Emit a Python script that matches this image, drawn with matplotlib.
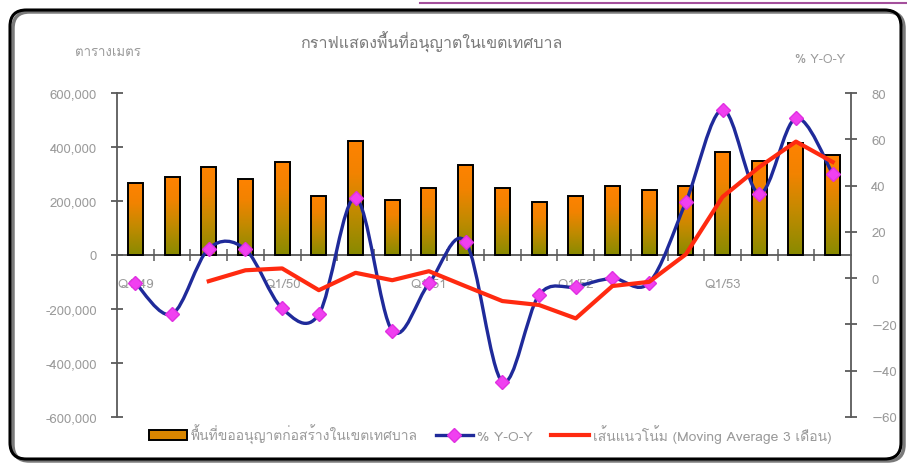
import numpy as np
import matplotlib
matplotlib.use("Agg")
import matplotlib.pyplot as plt
from matplotlib import font_manager
from matplotlib.ft2font import FT2Font
from matplotlib.path import Path
from matplotlib.patches import PathPatch, FancyBboxPatch, Patch
from matplotlib.lines import Line2D
from matplotlib.colors import LinearSegmentedColormap

# ---------------- data ----------------
categories = ["Q1/49", "Q2/49", "Q3/49", "Q4/49",
              "Q1/50", "Q2/50", "Q3/50", "Q4/50",
              "Q1/51", "Q2/51", "Q3/51", "Q4/51",
              "Q1/52", "Q2/52", "Q3/52", "Q4/52",
              "Q1/53", "Q2/53", "Q3/53", "Q4/53"]
area = [267000, 288000, 327000, 283000, 346000, 219000, 421000, 205000,
        249000, 335000, 249000, 196000, 220000, 255000, 241000, 254000,
        381000, 350000, 415000, 370000]
yoy = [-2.0, -15.5, 12.8, 12.4, -13.1, -15.6, 34.7, -22.7, -2.3, 15.7,
       -44.7, -7.3, -3.7, -0.1, -2.0, 32.9, 72.8, 36.5, 69.1, 45.1]
ma3 = [np.nan, np.nan, -1.3, 3.4, 4.2, -5.2, 2.3, -0.9, 3.0, -3.5,
       -9.9, -11.6, -17.4, -3.4, -1.6, 10.3, 35.1, 48.0, 59.0, 50.2]
left_ticks = [-600000, -400000, -200000, 0, 200000, 400000, 600000]
right_ticks = [-60, -40, -20, 0, 20, 40, 60, 80]

title = "กราฟแสดงพื้นที่อนุญาตในเขตเทศบาล"
left_unit = "ตารางเมตร"
right_unit = "% Y-O-Y"
lbl_bar = "พื้นที่ขออนุญาตก่อสร้างในเขตเทศบาล"
lbl_yoy = "% Y-O-Y"
lbl_ma = "เส้นแนวโน้ม (Moving Average 3 เดือน)"

# ---------------- font with Thai glyphs ----------------
thai_font = None
for fe in font_manager.fontManager.ttflist:
    try:
        cm = FT2Font(fe.fname).get_charmap()
    except Exception:
        continue
    if 0x0E01 in cm and 0x0E40 in cm:
        thai_font = fe.name
        if "Sans" in fe.name or "Loma" in fe.name:
            break
families = ([thai_font] if thai_font else []) + ["DejaVu Sans"]
plt.rcParams['font.family'] = families

TXT = "#9a9a9a"
AX = "#5a5a5a"
FS = 9.5

fig = plt.figure(figsize=(9.07, 4.64), dpi=100)
W, H = 907, 464
L, R, T, B = 117, 851, 94, 418
ax = fig.add_axes([L / W, 1 - B / H, (R - L) / W, (B - T) / H])
ax2 = ax.twinx()

x = np.arange(len(categories))

# bars with gradient
bars = ax.bar(x, area, width=0.41, facecolor="none", edgecolor="black",
              linewidth=1.4, zorder=3)
cmap = LinearSegmentedColormap.from_list(
    "og", [(0.0, "#888a00"), (0.4, "#c48a00"), (0.72, "#f28300"), (1.0, "#ff8200")])
grad = np.linspace(0, 1, 256).reshape(-1, 1)
for rect in bars:
    x0, w, h = rect.get_x(), rect.get_width(), rect.get_height()
    im = ax.imshow(grad, extent=[x0, x0 + w, 0, h], aspect="auto",
                   origin="lower", cmap=cmap, zorder=2, interpolation="bilinear")
    im.set_clip_path(rect)

ax.set_xlim(-0.5, len(categories) - 0.5)
ax.set_ylim(-600000, 600000)
ax.set_yticks(left_ticks)
ax.set_yticklabels([f"{v:,}" for v in left_ticks])

# x axis at zero
ax.spines['bottom'].set_position(('data', 0))
for s in ['top', 'right']:
    ax.spines[s].set_visible(False)
ax.spines['left'].set_color(AX)
ax.spines['bottom'].set_color(AX)
ax.spines['left'].set_linewidth(1.3)
ax.spines['bottom'].set_linewidth(1.3)
ax.set_xticks(x[::4])
ax.set_xticklabels(categories[::4])
ax.set_xticks(np.arange(0.5, len(categories) - 0.5, 1), minor=True)
ax.tick_params(axis='x', which='major', length=0, pad=16.5, labelsize=FS, labelcolor=TXT)
ax.tick_params(axis='x', which='minor', direction='inout', length=8, width=1.1, color=AX)
ax.tick_params(axis='y', direction='inout', length=9, width=1.3, color=AX,
               pad=10, labelsize=FS, labelcolor=TXT)
ax.set_facecolor("none")

# right axis
ax2.set_ylim(-60, 80)
ax2.set_yticks(right_ticks)
for s in ['top', 'left', 'bottom']:
    ax2.spines[s].set_visible(False)
ax2.spines['right'].set_color(AX)
ax2.spines['right'].set_linewidth(1.3)
ax2.tick_params(axis='y', direction='inout', length=9, width=1.3, color=AX,
                pad=10, labelsize=FS, labelcolor=TXT)

# smoothed YoY line (Bezier through the data points)
px = np.asarray(x, float)
py = np.asarray(yoy, float)
n = len(px)
verts = [(px[0], py[0])]
codes = [Path.MOVETO]
for i in range(n - 1):
    i0 = max(i - 1, 0)
    i3 = min(i + 2, n - 1)
    c1 = (px[i] + (px[i + 1] - px[i0]) / 6, py[i] + (py[i + 1] - py[i0]) / 6)
    c2 = (px[i + 1] - (px[i3] - px[i]) / 6, py[i + 1] - (py[i3] - py[i]) / 6)
    verts += [c1, c2, (px[i + 1], py[i + 1])]
    codes += [Path.CURVE4] * 3
ax2.add_patch(PathPatch(Path(verts, codes), facecolor="none",
                        edgecolor="#1f2a9a", linewidth=2.4, zorder=4))
ax2.plot(x, yoy, linestyle="none", marker="D", markersize=7,
         markerfacecolor="#f040f0", markeredgecolor="#e030e0", zorder=5)
ax2.plot(x, ma3, color="#ff2a10", linewidth=3, zorder=6, solid_joinstyle="round")

# texts
fig.text(431 / W, 1 - 42 / H, title, ha="center", va="center", fontsize=11.5, color="#7a7a7a")
fig.text(108 / W, 1 - 53 / H, left_unit, ha="center", va="center", fontsize=9.5, color=TXT)
fig.text(820 / W, 1 - 60 / H, right_unit, ha="center", va="center", fontsize=9, color=TXT)

# legend
handles = [Patch(facecolor="#d98600", edgecolor="black", linewidth=1.4),
           Line2D([], [], color="#1f2a9a", linewidth=2.4, marker="D", markersize=7,
                  markerfacecolor="#f040f0", markeredgecolor="#e030e0"),
           Line2D([], [], color="#ff2a10", linewidth=3)]
fig.legend(handles, [lbl_bar, lbl_yoy, lbl_ma], loc="center left",
           bbox_to_anchor=(149 / W, 1 - 435 / H), ncol=3, frameon=False,
           fontsize=10, labelcolor=TXT, handlelength=2.7, handleheight=0.8,
           handletextpad=0.3, columnspacing=1.3, borderpad=0, borderaxespad=0)

# outer rounded border with shadow
shadow = FancyBboxPatch((13 / W, 2 / H), 891 / W, 449 / H,
                        boxstyle="round,pad=0,rounding_size=0.018",
                        transform=fig.transFigure, facecolor="none",
                        edgecolor="#7a7a7a", linewidth=2.5, zorder=0, mutation_aspect=W / H)
border = FancyBboxPatch((10 / W, 4 / H), 891 / W, 449 / H,
                        boxstyle="round,pad=0,rounding_size=0.018",
                        transform=fig.transFigure, facecolor="none",
                        edgecolor="black", linewidth=2.2, zorder=1, mutation_aspect=W / H)
fig.patches.extend([shadow, border])
fig.lines.append(Line2D([420 / W, 1.0], [1 - 4 / H, 1 - 4 / H], transform=fig.transFigure,
                        color="#a4509c", linewidth=1.5))

fig.savefig("out.png", dpi=100)
